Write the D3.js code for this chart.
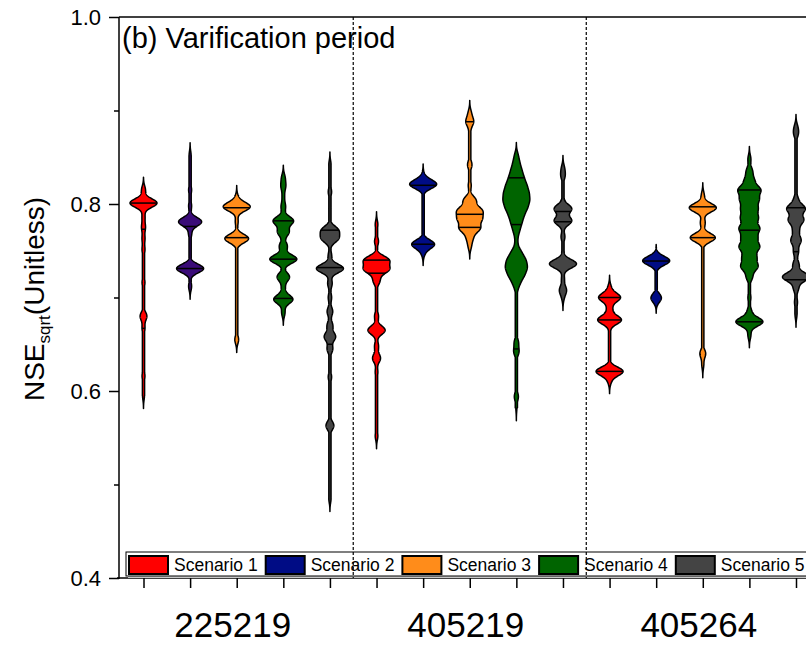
<!DOCTYPE html>
<html>
<head>
<meta charset="utf-8">
<script src="https://cdn.jsdelivr.net/npm/d3@7"></script>
<style>
	body { margin: 0; background: #fff; }
	text { font-family: "Liberation Sans", Arial, sans-serif; fill: #000; }
</style>
</head>
<body>
<div id="chart"></div>
<script>
var stations  = ['225219', '405219', '405264'];
var scenarios = ['Scenario 1', 'Scenario 2', 'Scenario 3', 'Scenario 4', 'Scenario 5'];
var scenario_colors = ['#ff0000', '#000c85', '#ff8c1a', '#006400', '#444444'];
// scenario 2 of 225219 is drawn purple in the original
var violin_colors = [
	['#ff0000', '#3a0b78', '#ff8c1a', '#006400', '#444444'],
	scenario_colors,
	scenario_colors
];

var y_ticks = [0.4, 0.6, 0.8, 1.0];
var y_minor = [0.5, 0.7, 0.9];

// weighted samples [value, weight]
var samples_225219 = [
	[[0.815,4],[0.801,28],[0.786,3],[0.775,4],[0.763,3],[0.751,3],[0.733,2],[0.716,3],[0.680,7],[0.667,3],[0.640,2],[0.616,3],[0.595,2]],
	[[0.852,2],[0.835,1],[0.815,3],[0.798,3],[0.781,23],[0.768,3],[0.750,1],[0.731,27],[0.712,3]],
	[[0.806,3],[0.797,28],[0.781,3],[0.763,25],[0.720,1],[0.680,1],[0.655,4]],
	[[0.828,3],[0.819,4],[0.808,2],[0.797,4],[0.782,18],[0.770,10],[0.755,7],[0.741,24],[0.722,11],[0.710,3],[0.698,17],[0.684,3]],
	[[0.842,2],[0.813,3],[0.795,2],[0.772,14],[0.763,14],[0.745,3],[0.731,24],[0.715,4],[0.700,3],[0.685,5],[0.670,5],[0.658,10],[0.645,5],[0.615,3],[0.590,1],[0.563,7],[0.520,1],[0.485,2]]
];
var samples_405219 = [
	[[0.778,2],[0.760,3],[0.740,18],[0.730,18],[0.718,5],[0.700,1],[0.680,3],[0.665,13],[0.648,3],[0.635,6],[0.620,2],[0.600,1],[0.575,1],[0.552,2]],
	[[0.829,3],[0.821,27],[0.790,1],[0.757,23],[0.748,3]],
	[[0.897,2],[0.888,5],[0.878,1],[0.842,3],[0.820,2],[0.804,8],[0.793,15],[0.784,14],[0.774,13],[0.764,4],[0.755,2]],
	[[0.852,3],[0.844,5],[0.836,8],[0.828,11],[0.820,15],[0.812,18],[0.804,19],[0.796,16],[0.788,11],[0.780,8],[0.772,5],[0.764,2],[0.756,2],[0.748,8],[0.740,14],[0.732,16],[0.724,12],[0.716,6],[0.708,2],[0.690,1],[0.670,1],[0.652,4],[0.642,5],[0.625,1],[0.608,1],[0.594,4],[0.582,1]],
	[[0.838,3],[0.830,4],[0.810,2],[0.795,18],[0.782,18],[0.765,4],[0.750,2],[0.736,28],[0.720,3],[0.708,7],[0.700,2]]
];
var samples_405264 = [
	[[0.710,3],[0.700,21],[0.688,5],[0.676,23],[0.660,2],[0.640,2],[0.621,26],[0.611,3]],
	[[0.743,3],[0.739,28],[0.720,2],[0.700,10],[0.697,2]],
	[[0.809,3],[0.796,28],[0.780,5],[0.764,26],[0.700,2],[0.665,2],[0.640,6],[0.628,2]],
	[[0.848,3],[0.835,6],[0.825,9],[0.815,21],[0.805,17],[0.795,15],[0.785,16],[0.774,19],[0.764,14],[0.754,19],[0.743,13],[0.733,16],[0.722,6],[0.700,3],[0.685,4],[0.674,27],[0.660,3]],
	[[0.882,3],[0.875,4],[0.850,2],[0.820,2],[0.805,4],[0.795,18],[0.783,15],[0.772,6],[0.761,10],[0.749,5],[0.735,6],[0.722,27],[0.710,5],[0.695,3],[0.682,2]]
];

// horizontal lines drawn inside each violin
var lines_225219 = [[0.801, 0.773, 0.667], [0.776, 0.731], [0.796, 0.764], [0.782, 0.741, 0.699], [0.772, 0.732, 0.650]];
var lines_405219 = [[0.740, 0.726], [0.820, 0.757], [0.888, 0.789, 0.775], [0.828, 0.778, 0.645], [0.792, 0.781]];
var lines_405264 = [[0.700, 0.676, 0.621], [0.739], [0.797, 0.764], [0.815, 0.772, 0.674], [0.796, 0.749, 0.719]];

var all_samples = [samples_225219, samples_405219, samples_405264];
var all_lines   = [lines_225219, lines_405219, lines_405264];

var chart_width  = 806;
var chart_height = 645;
var left = 119, top_y = 17, bottom = 578;
var bw = 0.0046;
var max_half = 13.5;

var svg = d3.select('#chart')
	.append('svg')
	.attr('width', chart_width)
	.attr('height', chart_height);

// scales
var x_scale = d3.scaleLinear()
	.domain([0, 14])
	.range([143.5, 796]);

var y_scale = d3.scaleLinear()
	.domain([0.4, 1.0])
	.range([bottom, top_y]);

function density(sample, v) {
	return d3.sum(sample, function(d){
		var u = (v - d[0]) / bw;
		return d[1] * Math.exp(-0.5 * u * u);
	});
}

// violins
all_samples.forEach(function(group, g){
	group.forEach(function(sample, s){
		var idx = g * 5 + s;
		var cx = x_scale(idx);
		var lo = d3.min(sample, function(d){ return d[0]; });
		var hi = d3.max(sample, function(d){ return d[0]; });
		var grid = d3.range(lo - 3 * bw, hi + 3 * bw, 0.0003);
		var pts = grid.map(function(v){ return [v, density(sample, v)]; });
		var max_d = d3.max(pts, function(d){ return d[1]; });
		var w_scale = d3.scaleLinear().domain([0, max_d]).range([0, max_half]);
		function half(v, d) {
			var w = w_scale(d);
			if (v >= lo && v <= hi) w = Math.max(w, 1.1);
			return w;
		}
		var area = d3.area()
			.y(function(d){ return y_scale(d[0]); })
			.x0(function(d){ return cx - half(d[0], d[1]); })
			.x1(function(d){ return cx + half(d[0], d[1]); });

		svg.append('path')
			.datum(pts)
			.attr('d', area)
			.attr('fill', violin_colors[g][s])
			.attr('stroke', '#000')
			.attr('stroke-width', 1.5)
			.attr('stroke-linejoin', 'round');

		svg.selectAll(null)
			.data(all_lines[g][s])
			.enter()
			.append('line')
			.attr('x1', function(v){ return cx - half(v, density(sample, v)); })
			.attr('x2', function(v){ return cx + half(v, density(sample, v)); })
			.attr('y1', function(v){ return y_scale(v); })
			.attr('y2', function(v){ return y_scale(v); })
			.attr('stroke', '#000')
			.attr('stroke-width', 1.5);
	});
});

// frame lines
svg.append('line')
	.attr('x1', left).attr('x2', chart_width)
	.attr('y1', top_y).attr('y2', top_y)
	.attr('stroke', '#000').attr('stroke-width', 1.5);
svg.append('line')
	.attr('x1', left - 2).attr('x2', chart_width)
	.attr('y1', bottom).attr('y2', bottom)
	.attr('stroke', '#000').attr('stroke-width', 1.5);
svg.append('line')
	.attr('x1', left).attr('x2', left)
	.attr('y1', top_y).attr('y2', bottom + 1)
	.attr('stroke', '#000').attr('stroke-width', 1.5);

// y axis
var y_axis = d3.axisLeft(y_scale)
	.tickValues(y_ticks)
	.tickSize(10)
	.tickPadding(8)
	.tickFormat(d3.format('.1f'));

var y_g = svg.append('g')
	.attr('class', 'y-axis')
	.attr('transform', 'translate(' + left + ', 0)')
	.call(y_axis);
y_g.select('.domain').remove();
y_g.selectAll('line').attr('stroke-width', 1.5);
y_g.selectAll('text').style('font-size', '22px').attr('fill', '#000');

var y_minor_g = svg.append('g')
	.attr('transform', 'translate(' + left + ', 0)')
	.call(d3.axisLeft(y_scale).tickValues(y_minor).tickSize(5).tickFormat(''));
y_minor_g.select('.domain').remove();
y_minor_g.selectAll('line').attr('stroke-width', 1.5);

// x axis
var x_g = svg.append('g')
	.attr('class', 'x-axis')
	.attr('transform', 'translate(0,' + bottom + ')')
	.call(d3.axisBottom(x_scale).tickValues(d3.range(15)).tickSize(10).tickFormat(''));
x_g.select('.domain').remove();
x_g.selectAll('line').attr('stroke-width', 1.5);

// station labels
svg.selectAll('.station')
	.data(stations)
	.enter()
	.append('text')
	.attr('class', 'station')
	.text(function(d){ return d; })
	.attr('x', function(d, i){ return x_scale(i * 5 + 2) - 4; })
	.attr('y', 637)
	.attr('text-anchor', 'middle')
	.style('font-size', '35px');

// title
svg.append('text')
	.text('(b) Varification period')
	.attr('x', 122)
	.attr('y', 48)
	.style('font-size', '29px');

// y label
var y_label = svg.append('text')
	.attr('transform', 'translate(44,299) rotate(-90)')
	.attr('text-anchor', 'middle')
	.style('font-size', '28px');
y_label.append('tspan').text('NSE');
y_label.append('tspan').text('sqrt').attr('dy', 6).style('font-size', '17px');
y_label.append('tspan').text('(Unitless)').attr('dy', -6);

// legend
svg.append('rect')
	.attr('x', 128).attr('y', 554)
	.attr('width', 690).attr('height', 24)
	.attr('fill', '#c8c8c8');
svg.append('rect')
	.attr('x', 126).attr('y', 552)
	.attr('width', 690).attr('height', 24)
	.attr('fill', '#fff')
	.attr('stroke', '#000')
	.attr('stroke-width', 1);

var legend = svg.selectAll('.legend')
	.data(scenarios)
	.enter()
	.append('g')
	.attr('class', 'legend')
	.attr('transform', function(d, i){ return 'translate(' + (128 + i * 136.7) + ',555)'; });

legend.append('rect')
	.attr('x', 1).attr('y', 1)
	.attr('width', 39).attr('height', 18)
	.attr('fill', function(d, i){ return scenario_colors[i]; })
	.attr('stroke', '#000')
	.attr('stroke-width', 2);

legend.append('text')
	.text(function(d){ return d; })
	.attr('x', 46)
	.attr('y', 16)
	.style('font-size', '17.5px');

// group separators, drawn last so they show through the legend
svg.selectAll('.sep')
	.data([4.5, 9.5, 14.5])
	.enter()
	.append('line')
	.attr('class', 'sep')
	.attr('x1', function(d){ return x_scale(d); })
	.attr('x2', function(d){ return x_scale(d); })
	.attr('y1', top_y)
	.attr('y2', bottom)
	.attr('stroke', '#000')
	.attr('stroke-width', 1.2)
	.attr('stroke-dasharray', '3,2');
</script>
</body>
</html>
